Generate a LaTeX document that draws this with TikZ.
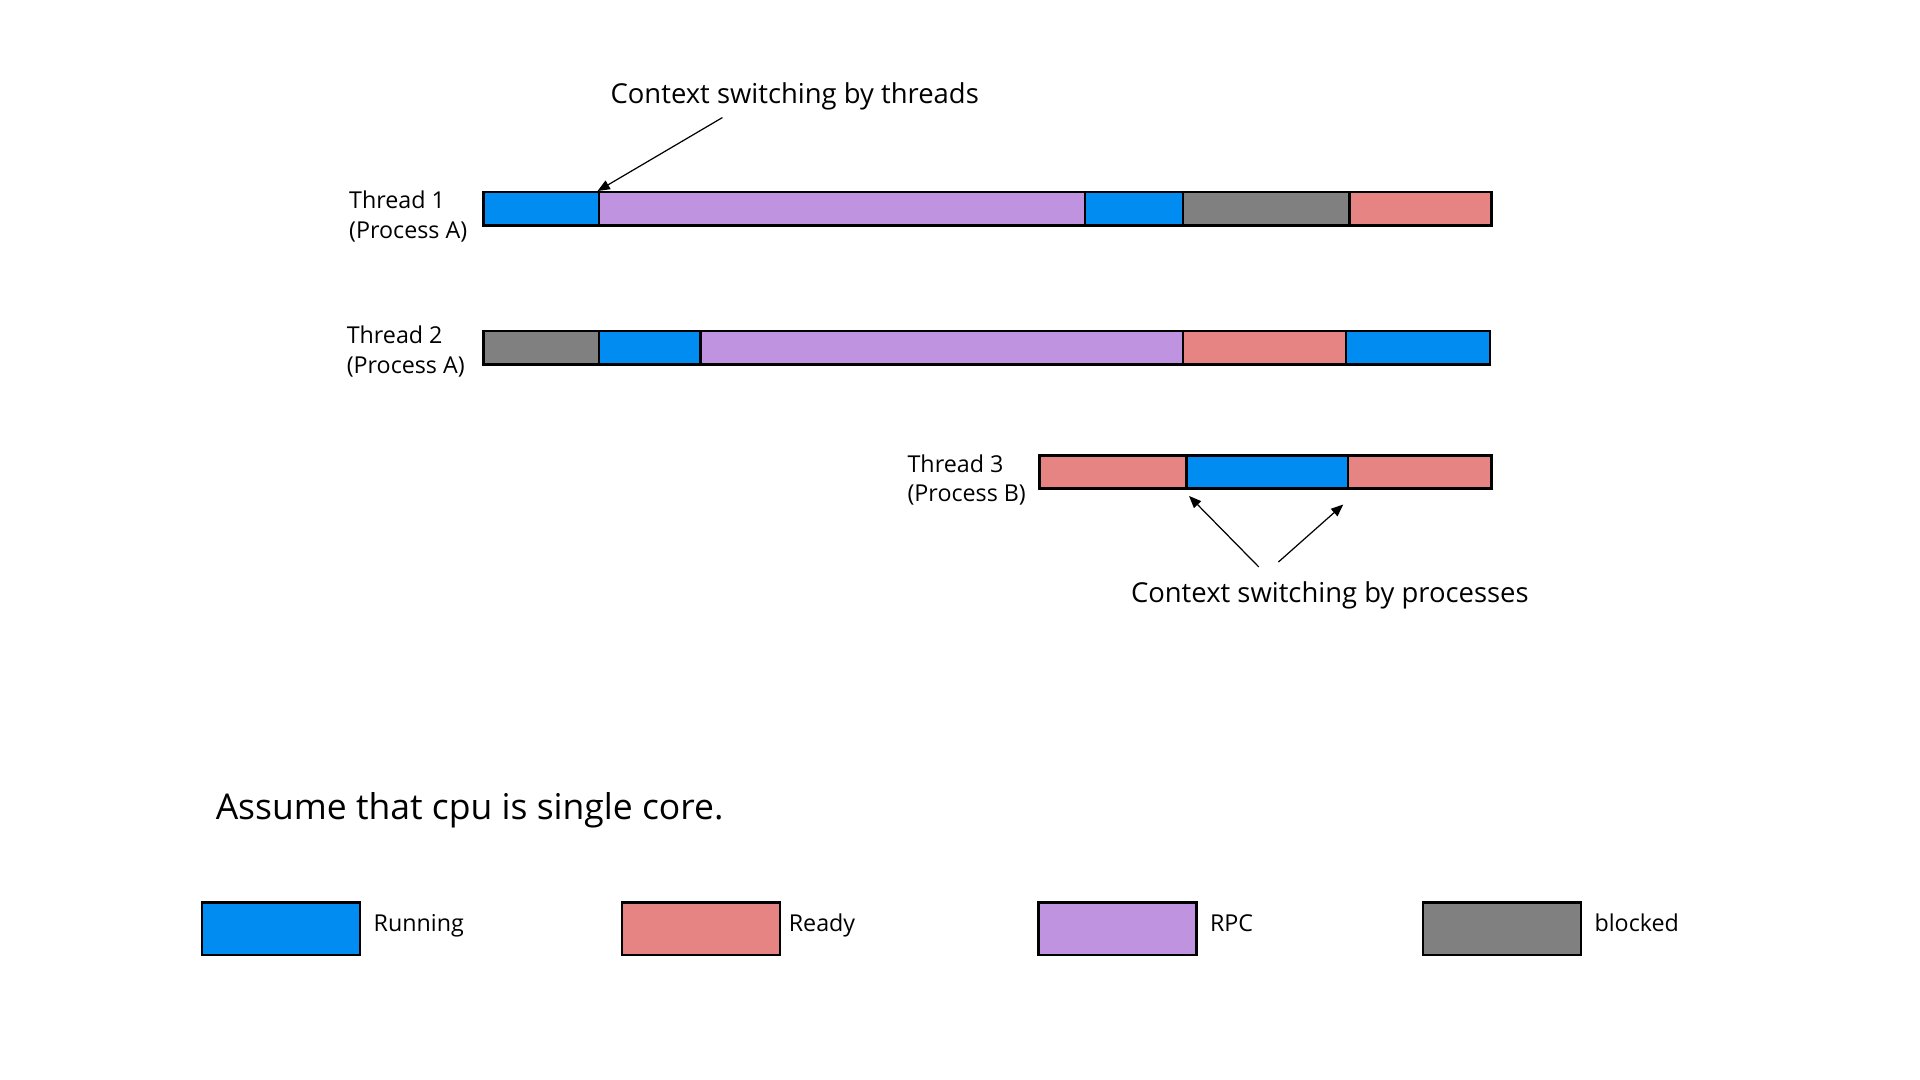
\documentclass[tikz,border=0pt]{standalone}
\usepackage{fontspec}
\setmainfont{Open Sans}
\usetikzlibrary{arrows.meta,calc}
\definecolor{runc}{RGB}{0,140,240}
\definecolor{readyc}{RGB}{230,131,131}
\definecolor{rpcc}{RGB}{192,147,224}
\definecolor{blockc}{RGB}{128,128,128}
\begin{document}
\begin{tikzpicture}[x=1pt,y=-1pt,
  seg/.style={draw=black,line width=2pt,minimum height=27pt,inner sep=0pt,anchor=west,rectangle},
  legbox/.style={draw=black,line width=2pt,minimum height=43pt,minimum width=129pt,inner sep=0pt,anchor=north west,rectangle},
  lbl/.style={inner sep=0pt,anchor=north west,align=left,font=\fontsize{19}{24}\selectfont},
  legtxt/.style={inner sep=0pt,anchor=base west,font=\fontsize{19}{22}\selectfont},
  note/.style={inner sep=0pt,font=\fontsize{22.4}{26}\selectfont},
  arr/.style={line width=1pt,-{Triangle[length=10pt,width=8pt]}}]
\useasboundingbox (0,0) rectangle (1568,882);
% Thread 1
\node[seg,fill=runc,minimum width=94] (t1a) at (394,170.5) {};
\node[seg,fill=rpcc,minimum width=397] (t1b) at (488,170.5) {};
\node[seg,fill=runc,minimum width=80] (t1c) at (885,170.5) {};
\node[seg,fill=blockc,minimum width=136] (t1d) at (965,170.5) {};
\node[seg,fill=readyc,minimum width=116] (t1e) at (1101,170.5) {};
% Thread 2
\node[seg,fill=blockc,minimum width=94] (t2a) at (394,284) {};
\node[seg,fill=runc,minimum width=83] (t2b) at (488,284) {};
\node[seg,fill=rpcc,minimum width=394] (t2c) at (571,284) {};
\node[seg,fill=readyc,minimum width=133] (t2d) at (965,284) {};
\node[seg,fill=runc,minimum width=118] (t2e) at (1098,284) {};
% Thread 3
\node[seg,fill=readyc,minimum width=120] (t3a) at (848,385.5) {};
\node[seg,fill=runc,minimum width=132] (t3b) at (968,385.5) {};
\node[seg,fill=readyc,minimum width=117] (t3c) at (1100,385.5) {};
% labels
\node[lbl] (l1) at (285,156) {Thread 1\\(Process A)};
\node[lbl] (l2) at (283,266) {Thread 2\\(Process A)};
\node[lbl] (l3) at (741,371) {Thread 3\\(Process B)};
% annotations
\node[note] (n1) at (649,79) {Context switching by threads};
\coordinate (a1) at (590,96);
\draw[arr] (a1) -- (t1b.north west);
\node[note] (n2) at (1086,486) {Context switching by processes};
\coordinate (a2) at (1028,463);
\coordinate (a3) at (1044,459);
\draw[arr] (a2) -- ($(t3b.south west)+(3,5)$);
\draw[arr] (a3) -- ($(t3c.south west)+(-3,12)$);
% assumption
\node[inner sep=0pt,anchor=west,font=\fontsize{29}{33}\selectfont] (as) at (176,662) {Assume that cpu is single core.};
% legend
\node[legbox,fill=runc] (k1) at (164,736) {};
\node[legtxt] (k1t) at (305,761) {Running};
\node[legbox,fill=readyc] (k2) at (507,736) {};
\node[legtxt] (k2t) at (644,761) {Ready};
\node[legbox,fill=rpcc] (k3) at (847,736) {};
\node[legtxt] (k3t) at (988,761) {RPC};
\node[legbox,fill=blockc] (k4) at (1161,736) {};
\node[legtxt] (k4t) at (1302,761) {blocked};
\end{tikzpicture}
\end{document}
